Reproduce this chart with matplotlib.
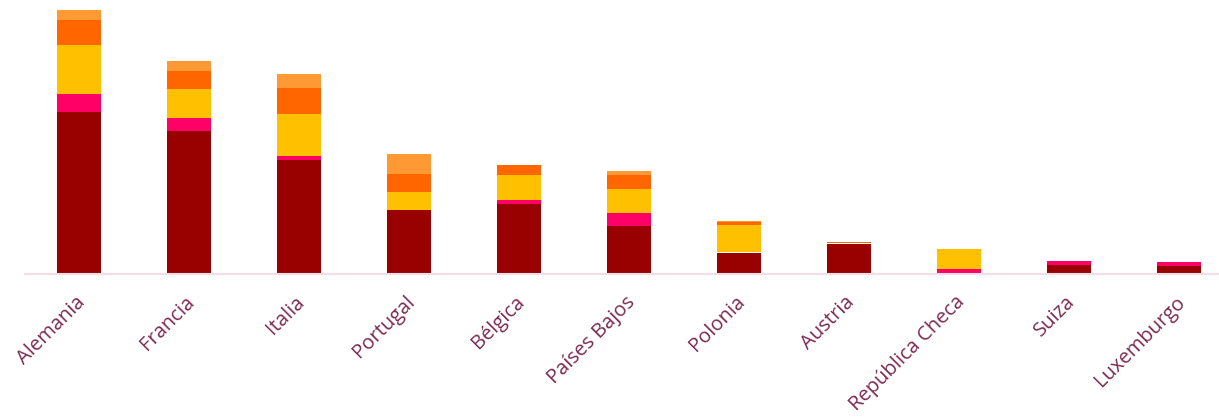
import numpy as np
import matplotlib
matplotlib.use("Agg")
import matplotlib.pyplot as plt
from matplotlib.transforms import ScaledTranslation

paises = ['Alemania', 'Francia', 'Italia', 'Portugal', 'Bélgica', 'Países Bajos',
          'Polonia', 'Austria', 'República Checa', 'Suiza', 'Luxemburgo']

# stacked series, bottom to top
serie1 = [161, 142, 113, 63, 69, 47, 20.5, 29.5, 0, 7.8, 6.8]
serie2 = [18, 13, 4, 0, 4, 13, 0, 0, 3.6, 4.1, 4.4]
serie3 = [49, 29, 42, 18, 25, 24, 27.5, 0, 20, 0, 0]
serie4 = [25, 18, 26, 18, 10, 14, 2.8, 1, 0, 0, 0]
serie5 = [10, 10, 14, 20, 0, 4, 1.7, 0, 0, 0, 0]

series = [serie1, serie2, serie3, serie4, serie5]
colores = ['#990000', '#FF0066', '#FFC000', '#FF6600', '#FF9933']

plt.rcParams['font.family'] = ['Open Sans', 'DejaVu Sans']

fig = plt.figure(figsize=(12.19, 4.19), dpi=100)
ax = fig.add_axes([25 / 1219, (419 - 274) / 419, 1 - 25 / 1219, 274 / 419])

x = np.arange(len(paises))
bottom = np.zeros(len(paises))
for vals, col in zip(series, colores):
    vals = np.array(vals, dtype=float)
    ax.bar(x, vals, 0.4, bottom=bottom, color=col, linewidth=0)
    bottom += vals

ax.set_xlim(-0.491, 10.364)
ax.set_ylim(-1, 273)

for s in ['top', 'right', 'left']:
    ax.spines[s].set_visible(False)
ax.spines['bottom'].set_color('#F2DCE6')
ax.spines['bottom'].set_linewidth(1.5)
ax.set_yticks([])
ax.set_xticks(x)
ax.set_xticklabels(paises, rotation=45, ha='right', rotation_mode='anchor',
                   fontsize=14.5, color='#7B2B52')
ax.tick_params(axis='x', length=0, pad=13)
off = ScaledTranslation(-3 / 72, 0, fig.dpi_scale_trans)
for lab in ax.get_xticklabels():
    lab.set_transform(lab.get_transform() + off)

fig.savefig('out.png', dpi=100)
